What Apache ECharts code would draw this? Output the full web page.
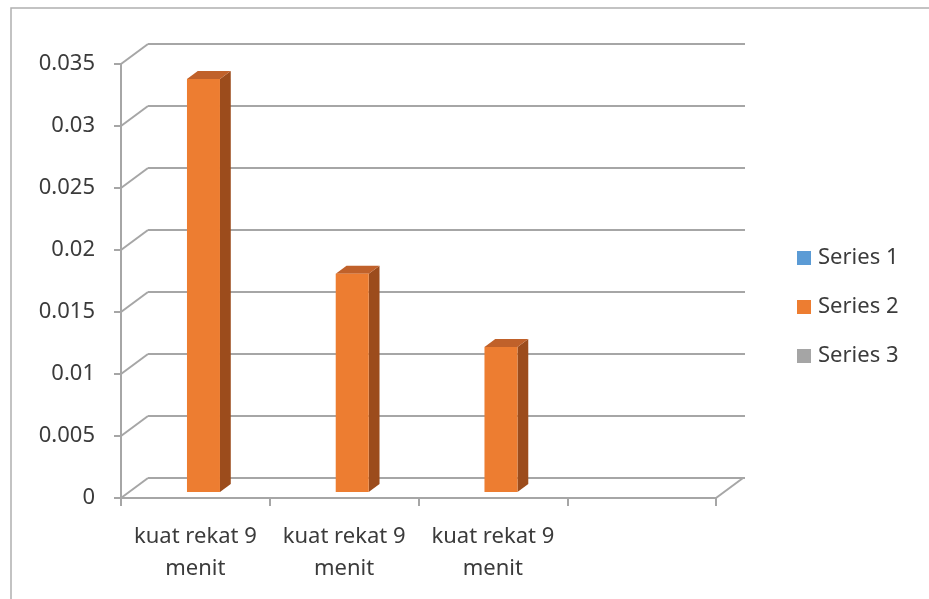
<!DOCTYPE html>
<html>
<head>
<meta charset="utf-8">
<script src="https://cdn.jsdelivr.net/npm/echarts@6/dist/echarts.min.js"></script>
<style>
  html, body { margin: 0; padding: 0; background: #fff; }
  #chart { width: 929px; height: 599px; }
</style>
</head>
<body>
<div id="chart"></div>
<script>
// data
const categories = ['kuat rekat 9\nmenit', 'kuat rekat 9\nmenit', 'kuat rekat 9\nmenit', '']
const seriesNames = ['Series 1', 'Series 2', 'Series 3']
const series1 = [null, null, null, null]
const series2 = [0.0333, 0.0176, 0.0117, null]
const series3 = [null, null, null, null]
const yTicks = [0, 0.005, 0.01, 0.015, 0.02, 0.025, 0.03, 0.035]

const GRID_COLOR = '#a6a6a6'
const TEXT_COLOR = '#3b3b3b'
const FONT = 'Noto Sans'
// pseudo 3d depth of the wall (px) and where the bars sit inside it
const DEPTH = [27, -20]
const BAR_POS = 0.3
const BAR_DEPTH = 0.4
const BAR_W = 33

const dom = document.getElementById('chart')
const chart = echarts.init(dom, null, { renderer: 'canvas' })

const option = {
  animation: false,
  textStyle: { fontFamily: FONT },
  graphic: [{
    type: 'rect',
    shape: { x: 11, y: 8, width: 1000, height: 1000 },
    style: { fill: 'none', stroke: '#b0b0b0', lineWidth: 1.5 },
    silent: true
  }],
  legend: {
    orient: 'vertical',
    left: 797,
    top: 246,
    padding: 0,
    itemWidth: 14,
    itemHeight: 14,
    itemGap: 25,
    icon: 'rect',
    data: seriesNames,
    textStyle: { color: TEXT_COLOR, fontSize: 22, lineHeight: 24, fontFamily: FONT, padding: [0, 0, 0, 2] }
  },
  grid: [
    // back wall
    { left: 148, right: 184, top: 44, bottom: 121 },
    // front plane
    { left: 121, right: 213, top: 64, bottom: 101 }
  ],
  xAxis: [
    { gridIndex: 0, type: 'category', data: categories, show: false },
    {
      gridIndex: 1,
      type: 'category',
      data: categories,
      axisLine: { show: true, lineStyle: { color: GRID_COLOR, width: 2 } },
      axisTick: { show: true, length: 8, lineStyle: { color: GRID_COLOR, width: 2 } },
      axisLabel: {
        color: TEXT_COLOR,
        fontSize: 22,
        lineHeight: 32,
        margin: 23,
        interval: 0,
        fontFamily: FONT
      }
    }
  ],
  yAxis: [
    {
      gridIndex: 0,
      type: 'value',
      min: 0,
      max: 0.035,
      interval: 0.005,
      axisLine: { show: false },
      axisTick: { show: false },
      axisLabel: { show: false },
      splitLine: { show: true, lineStyle: { color: GRID_COLOR, width: 2 } }
    },
    {
      gridIndex: 1,
      type: 'value',
      min: 0,
      max: 0.035,
      interval: 0.005,
      axisLine: { show: true, lineStyle: { color: GRID_COLOR, width: 2 } },
      axisTick: { show: true, length: 7, lineStyle: { color: GRID_COLOR, width: 2 } },
      splitLine: { show: false },
      axisLabel: {
        color: TEXT_COLOR,
        fontSize: 22,
        margin: 26,
        fontFamily: FONT,
        formatter: v => String(+v.toFixed(3))
      }
    }
  ],
  series: [
    {
      // side wall / floor diagonals: [category, value, side(-1 left edge, 1 right edge)]
      type: 'custom',
      xAxisIndex: 1,
      yAxisIndex: 1,
      silent: true,
      z: 1,
      dimensions: ['x', 'y', 'side'],
      encode: { x: 0, y: 1 },
      data: yTicks.map(v => [0, v, -1]).concat([[categories.length - 1, 0, 1]]),
      renderItem (params, api) {
        const p = api.coord([api.value(0), api.value(1)])
        const half = api.size([1, 0])[0] / 2
        const x = p[0] + api.value(2) * half
        return {
          type: 'line',
          shape: { x1: x, y1: p[1], x2: x + DEPTH[0], y2: p[1] + DEPTH[1] },
          style: { stroke: GRID_COLOR, lineWidth: 2 }
        }
      }
    },
    {
      name: seriesNames[0],
      type: 'bar',
      xAxisIndex: 1,
      yAxisIndex: 1,
      itemStyle: { color: '#5b9bd5' },
      data: series1
    },
    {
      name: seriesNames[1],
      type: 'custom',
      xAxisIndex: 1,
      yAxisIndex: 1,
      z: 5,
      itemStyle: { color: '#ed7d31' },
      data: series2.map((v, i) => [i, v]),
      renderItem (params, api) {
        if (api.value(1) == null || isNaN(api.value(1))) return null
        const base = api.coord([api.value(0), 0])
        const top = api.coord([api.value(0), api.value(1)])
        const ox = DEPTH[0] * BAR_POS
        const oy = DEPTH[1] * BAR_POS
        const dx = DEPTH[0] * BAR_DEPTH
        const dy = DEPTH[1] * BAR_DEPTH
        const l = top[0] + ox - BAR_W / 2
        const r = top[0] + ox + BAR_W / 2
        const t = top[1] + oy
        const b = base[1] + oy
        return {
          type: 'group',
          children: [
            {
              type: 'polygon',
              shape: { points: [[r, t], [r + dx, t + dy], [r + dx, b + dy], [r, b]] },
              style: { fill: '#9c4c1c' }
            },
            {
              type: 'polygon',
              shape: { points: [[l, t], [l + dx, t + dy], [r + dx, t + dy], [r, t]] },
              style: { fill: '#c0612a' }
            },
            {
              type: 'rect',
              shape: { x: l, y: t, width: BAR_W, height: b - t },
              style: { fill: '#ed7d31' }
            }
          ]
        }
      }
    },
    {
      name: seriesNames[2],
      type: 'bar',
      xAxisIndex: 1,
      yAxisIndex: 1,
      itemStyle: { color: '#a5a5a5' },
      data: series3
    }
  ]
}

chart.setOption(option)
window.addEventListener('resize', () => chart.resize())
</script>
</body>
</html>
